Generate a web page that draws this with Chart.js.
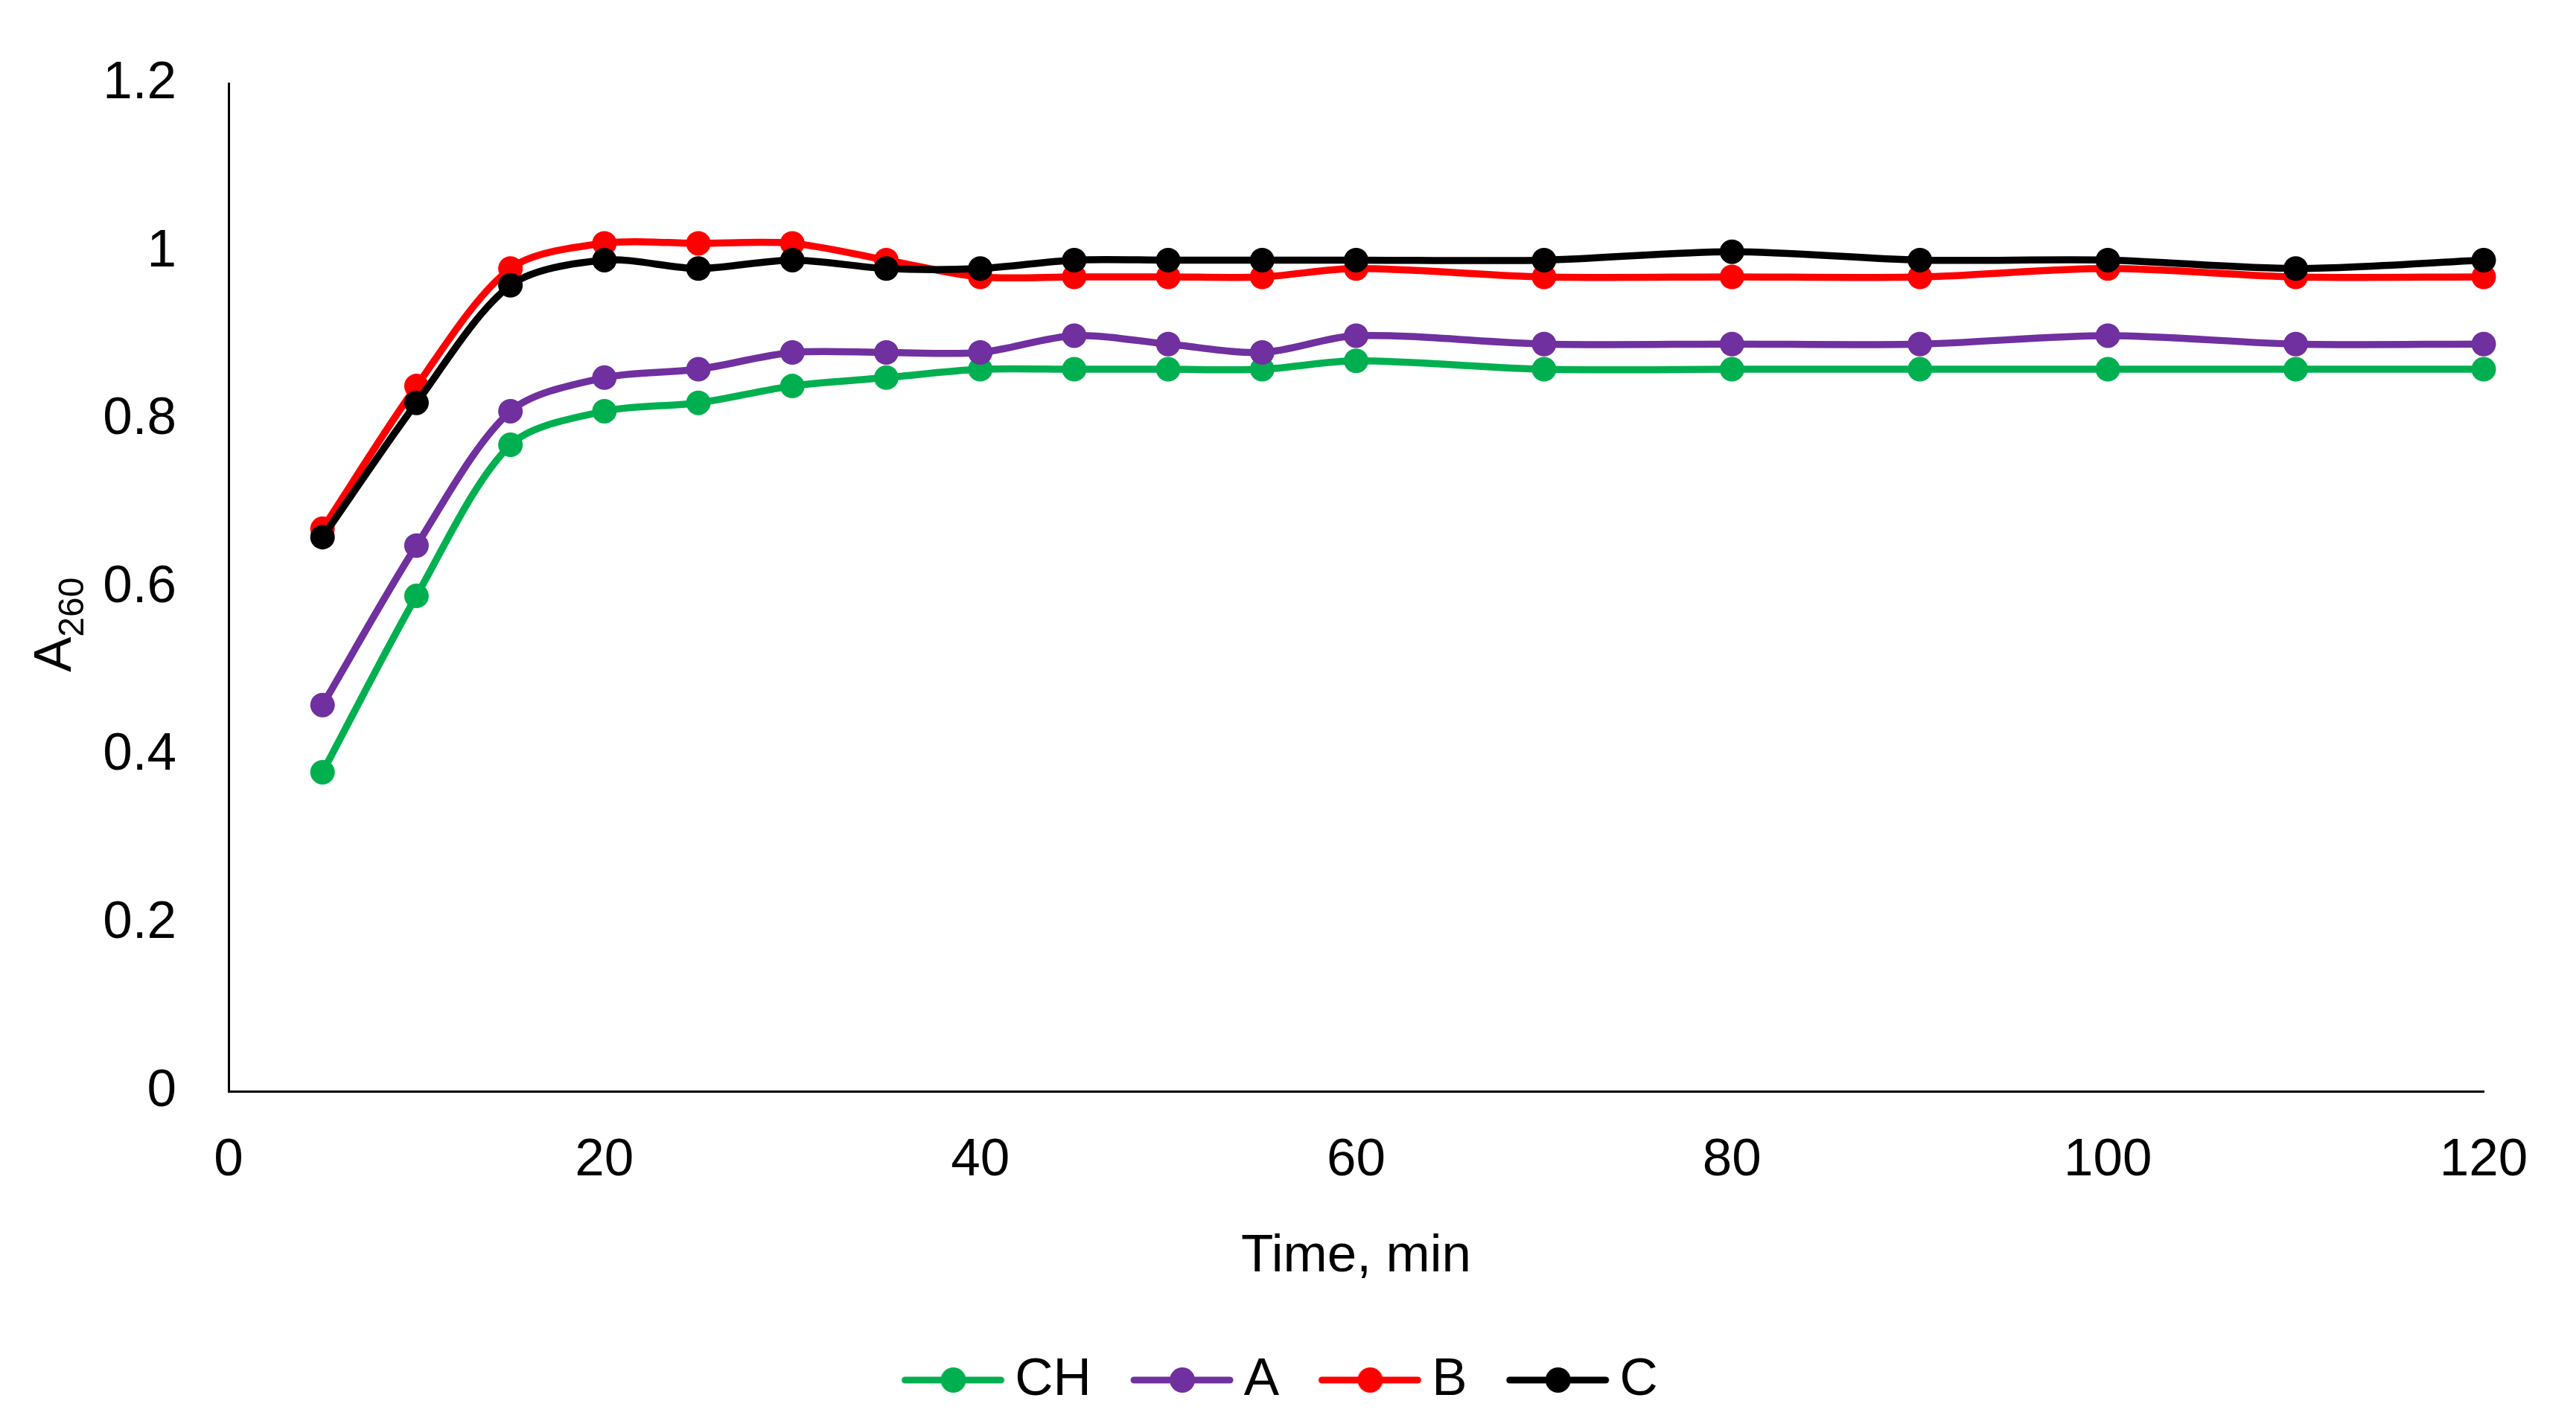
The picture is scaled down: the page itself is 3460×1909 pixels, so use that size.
<!DOCTYPE html>
<html>
<head>
<meta charset="utf-8">
<script src="https://cdn.jsdelivr.net/npm/chart.js@4/dist/chart.umd.min.js"></script>
<style>
  html, body { margin: 0; padding: 0; background: #fff; }
  canvas { display: block; }
</style>
</head>
<body>
<canvas id="chart" width="3460" height="1909"></canvas>
<script>
// time points (min) and A260 readings per sample
const times = [5, 10, 15, 20, 25, 30, 35, 40, 45, 50, 55, 60, 70, 80, 90, 100, 110, 120];
const seriesCH = [0.38, 0.59, 0.77, 0.81, 0.82, 0.84, 0.85, 0.86, 0.86, 0.86, 0.86, 0.87, 0.86, 0.86, 0.86, 0.86, 0.86, 0.86];
const seriesA  = [0.46, 0.65, 0.81, 0.85, 0.86, 0.88, 0.88, 0.88, 0.90, 0.89, 0.88, 0.90, 0.89, 0.89, 0.89, 0.90, 0.89, 0.89];
const seriesB  = [0.67, 0.84, 0.98, 1.01, 1.01, 1.01, 0.99, 0.97, 0.97, 0.97, 0.97, 0.98, 0.97, 0.97, 0.97, 0.98, 0.97, 0.97];
const seriesC  = [0.66, 0.82, 0.96, 0.99, 0.98, 0.99, 0.98, 0.98, 0.99, 0.99, 0.99, 0.99, 0.99, 1.00, 0.99, 0.99, 0.98, 0.99];
const seriesNames = ["CH", "A", "B", "C"];
const seriesColors = ["#00B050", "#7030A0", "#FF0000", "#000000"];
const xTicks = {min: 0, max: 120, step: 20};
const yTicks = {min: 0, max: 1.2, step: 0.2};

const FONT = "'Liberation Sans', Arial, sans-serif";
const FS = 71;

// little line+dot picture for each legend entry
function legendImage(color) {
    const c = document.createElement("canvas");
    c.width = 164; c.height = 40;
    const g = c.getContext("2d");
    g.strokeStyle = color;
    g.lineWidth = 9;
    g.lineCap = "round";
    g.beginPath();
    g.moveTo(28, 20); g.lineTo(157, 20);
    g.stroke();
    g.fillStyle = color;
    g.beginPath();
    g.arc(93, 20, 17, 0, Math.PI * 2);
    g.fill();
    return c;
}
const legendImgs = seriesColors.map(legendImage);

function pts(vals) {
    return vals.map((v, i) => ({x: times[i], y: v}));
}

const allSeries = [seriesCH, seriesA, seriesB, seriesC];
const datasets = allSeries.map((vals, i) => ({
    label: seriesNames[i],
    data: pts(vals),
    borderColor: seriesColors[i],
    backgroundColor: seriesColors[i],
    borderWidth: 9.5,
    pointRadius: 16.5,
    pointBorderWidth: 0,
    pointBackgroundColor: seriesColors[i],
    tension: 0.3,
    clip: false,
    order: 4 - i
}));

// y title with subscript, drawn by hand
const yTitlePlugin = {
    id: "yTitle",
    afterDraw(chart) {
        const ctx = chart.ctx;
        ctx.save();
        ctx.translate(95, 903);
        ctx.rotate(-Math.PI / 2);
        ctx.fillStyle = "#000";
        ctx.textBaseline = "alphabetic";
        ctx.textAlign = "left";
        ctx.font = FS + "px " + FONT;
        ctx.fillText("A", 0, 0);
        const w = ctx.measureText("A").width;
        ctx.font = "48px " + FONT;
        ctx.fillText("260", w, 17);
        ctx.restore();
    }
};

// centre the legend a bit left of the canvas middle, like the original
const legendCenter = {
    id: "legendCenter",
    afterLayout(chart) {
        chart.legend.left = -22;
        chart.legend.right = chart.width;
        chart.legend.width = chart.width + 22;
    }
};

new Chart(document.getElementById("chart").getContext("2d"), {
    type: "line",
    data: {datasets: datasets},
    options: {
        responsive: false,
        animation: false,
        devicePixelRatio: 1,
        layout: {padding: {left: 0, right: 124, top: 108, bottom: 9.5}},
        scales: {
            x: {
                type: "linear",
                min: xTicks.min, max: xTicks.max,
                grid: {display: false, drawTicks: false},
                border: {display: true, color: "#000", width: 3},
                ticks: {stepSize: xTicks.step, padding: 51, color: "#000", font: {family: FONT, size: FS}},
                title: {display: true, text: "Time, min", color: "#000", font: {family: FONT, size: FS}, padding: {top: 0, bottom: 34}},
                afterFit(scale) { scale.height = 299.5; }
            },
            y: {
                min: yTicks.min, max: yTicks.max,
                grid: {display: false, drawTicks: false},
                border: {display: true, color: "#000", width: 3},
                ticks: {
                    stepSize: yTicks.step, padding: 70, color: "#000", font: {family: FONT, size: FS},
                    callback: v => String(+v.toFixed(1))
                },
                afterFit(scale) { scale.width = 307; }
            }
        },
        plugins: {
            tooltip: {enabled: false},
            legend: {
                position: "bottom",
                labels: {
                    usePointStyle: true,
                    pointStyleWidth: 116.5,
                    padding: 53,
                    color: "#000",
                    font: {family: FONT, size: FS},
                    sort: (a, b) => a.datasetIndex - b.datasetIndex,
                    generateLabels(chart) {
                        const items = Chart.defaults.plugins.legend.labels.generateLabels(chart);
                        items.forEach(it => { it.pointStyle = legendImgs[it.datasetIndex]; });
                        return items;
                    }
                }
            }
        }
    },
    plugins: [yTitlePlugin, legendCenter]
});
</script>
</body>
</html>
